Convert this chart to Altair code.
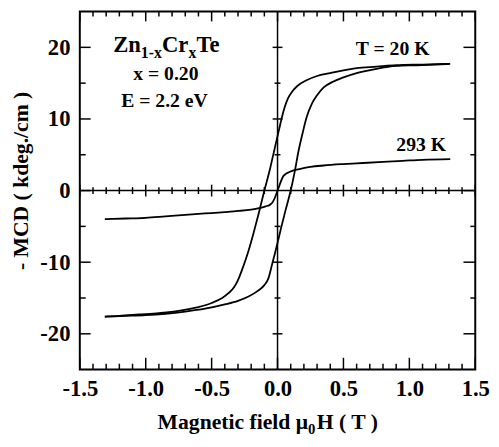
import altair as alt
import pandas as pd

# ---- data ----
# 20 K loop, descending-field branch (from +1.3 T to -1.3 T)
X_DESC = [1.30, 1.10, 0.90, 0.75, 0.60, 0.50, 0.40, 0.30, 0.22, 0.15, 0.11, 0.08, 0.05, 0.02, 0.00,
          -0.03, -0.06, -0.10, -0.14, -0.18, -0.22, -0.26, -0.30, -0.33, -0.37, -0.42, -0.50, -0.61,
          -0.75, -0.90, -1.05, -1.20, -1.31]
Y_DESC = [17.7, 17.6, 17.5, 17.3, 17.1, 16.8, 16.4, 16.0, 15.4, 14.6, 13.8, 12.9, 11.4, 9.2, 7.6,
          5.2, 2.8, 0.0, -3.0, -5.8, -8.4, -10.6, -12.5, -13.5, -14.3, -15.0, -15.7, -16.3,
          -16.8, -17.1, -17.3, -17.5, -17.6]
# 20 K loop, ascending-field branch (from -1.3 T to +1.3 T)
X_ASC = [-1.31, -1.15, -1.00, -0.85, -0.70, -0.55, -0.40, -0.30, -0.22, -0.15, -0.10, -0.07, -0.04,
         -0.02, 0.00, 0.03, 0.06, 0.10, 0.13, 0.16, 0.19, 0.22, 0.26, 0.30, 0.35, 0.42, 0.50,
         0.60, 0.75, 0.90, 1.05, 1.20, 1.31]
Y_ASC = [-17.6, -17.5, -17.4, -17.2, -16.9, -16.5, -15.9, -15.4, -14.8, -14.0, -13.2, -12.3, -10.2,
         -8.8, -7.3, -5.0, -2.8, 0.0, 2.6, 5.6, 8.0, 10.2, 12.1, 13.3, 14.4, 15.2, 15.8,
         16.4, 17.0, 17.4, 17.5, 17.6, 17.7]
# 293 K curve
X_RT = [-1.31, -1.15, -1.00, -0.85, -0.70, -0.55, -0.40, -0.30, -0.20, -0.14, -0.09, -0.06, -0.04,
        -0.02, 0.00, 0.02, 0.04, 0.06, 0.09, 0.13, 0.18, 0.25, 0.35, 0.50, 0.65, 0.80, 0.95, 1.10, 1.31]
Y_RT = [-4.0, -3.9, -3.8, -3.6, -3.4, -3.2, -3.0, -2.85, -2.65, -2.45, -2.2, -2.0, -1.7,
        -1.0, 0.0, 1.0, 1.9, 2.3, 2.6, 2.85, 3.05, 3.3, 3.5, 3.7, 3.85, 4.0, 4.15, 4.3, 4.4]

X_MAJOR = [-1.5, -1.0, -0.5, 0.0, 0.5, 1.0, 1.5]
X_MINOR = [v / 10 for v in range(-14, 15) if v % 5 != 0]
Y_MAJOR = [-20, -10, 0, 10, 20]
Y_MINOR = [-15, -5, 5, 15]
X_DOMAIN = [-1.5, 1.5]
Y_DOMAIN = [-25, 25]

# annotations (text, x, y in data units)
LABELS = ["x = 0.20", "E = 2.2 eV", "T = 20 K", "293 K"]
LABEL_X = [-0.847, -0.858, 0.873, 1.09]
LABEL_Y = [15.4, 11.6, 19.0, 5.5]
FORMULA_X, FORMULA_Y = -1.246, 19.3
X_TITLE_SPLIT = 0.231
Y_TITLE_Y = 1.35

# ---- styling ----
W, H = 402, 364
FONT = "Liberation Serif"
LW = 1.5

sx = alt.Scale(domain=X_DOMAIN, nice=False, zero=False)
sy = alt.Scale(domain=Y_DOMAIN, nice=False, zero=False)

x_axis = alt.Axis(values=X_MAJOR, labelExpr="(datum.value < 0 ? '-' : '') + format(abs(datum.value), '.1f')",
                  labelFont=FONT, labelFontWeight="bold", labelFontSize=23, labelColor="black",
                  labelPadding=8, labelFlush=False, labelOverlap=False,
                  ticks=False, domain=False, grid=False, title=None)
y_axis = alt.Axis(values=Y_MAJOR, labelExpr="(datum.value < 0 ? '-' : '') + format(abs(datum.value), 'd')",
                  labelFont=FONT, labelFontWeight="bold", labelFontSize=23, labelColor="black",
                  labelPadding=10, labelFlush=False, labelOverlap=False,
                  ticks=False, domain=False, grid=False, title=None)

X = lambda: alt.X("x:Q", scale=sx, axis=x_axis)
Y = lambda: alt.Y("y:Q", scale=sy, axis=y_axis)

rows = []
for name, xs, ys in [("desc", X_DESC, Y_DESC), ("asc", X_ASC, Y_ASC), ("rt", X_RT, Y_RT)]:
    for i, (a, b) in enumerate(zip(xs, ys)):
        rows.append({"series": name, "i": i, "x": a, "y": b})
curves = pd.DataFrame(rows)

lines = alt.Chart(curves).mark_line(color="black", strokeWidth=1.8, strokeJoin="round",
                                    interpolate="monotone").encode(
    x=X(), y=Y(), detail="series:N", order="i:Q")

# centre cross lines
zero_v = alt.Chart(pd.DataFrame({"x": [0.0]})).mark_rule(color="black", strokeWidth=LW).encode(x=X())
zero_h = alt.Chart(pd.DataFrame({"y": [0.0]})).mark_rule(color="black", strokeWidth=LW).encode(y=Y())

def xticks(vals, y_px, y2_px):
    return alt.Chart(pd.DataFrame({"x": vals})).mark_rule(color="black", strokeWidth=LW).encode(
        x=X(), y=alt.value(y_px), y2=alt.value(y2_px))

def yticks(vals, x_px, x2_px):
    return alt.Chart(pd.DataFrame({"y": vals})).mark_rule(color="black", strokeWidth=LW).encode(
        y=Y(), x=alt.value(x_px), x2=alt.value(x2_px))

def xticks_center(vals, half):
    return alt.Chart(pd.DataFrame({"x": vals, "y": [0.0] * len(vals)})).mark_rule(
        color="black", strokeWidth=LW, yOffset=-half, y2Offset=half).encode(
        x=X(), y=Y(), y2="y:Q")

def yticks_center(vals, half):
    return alt.Chart(pd.DataFrame({"y": vals, "x": [0.0] * len(vals)})).mark_rule(
        color="black", strokeWidth=LW, xOffset=-half, x2Offset=half).encode(
        y=Y(), x=X(), x2="x:Q")

tick_layers = [
    xticks(X_MAJOR, H, H - 12), xticks(X_MINOR, H, H - 6),
    xticks(X_MAJOR, 0, 10), xticks(X_MINOR, 0, 5),
    yticks(Y_MAJOR, 0, 11), yticks(Y_MINOR, 0, 6),
    yticks(Y_MAJOR, W, W - 12), yticks(Y_MINOR, W, W - 5),
    xticks_center([v for v in X_MAJOR if v != 0], 6), xticks_center(X_MINOR, 3.5),
    yticks_center([v for v in Y_MAJOR if v != 0], 5), yticks_center(Y_MINOR, 3),
]

# annotation labels
ann = alt.Chart(pd.DataFrame({"x": LABEL_X, "y": LABEL_Y, "t": LABELS})).mark_text(
    font=FONT, fontWeight="bold", fontSize=20, color="black", align="center", baseline="alphabetic").encode(
    x=X(), y=Y(), text="t:N")

def seg(text, dx, size, dy=0):
    return alt.Chart(pd.DataFrame({"x": [FORMULA_X], "y": [FORMULA_Y], "t": [text]})).mark_text(
        font=FONT, fontWeight="bold", fontSize=size, color="black", align="left",
        baseline="alphabetic", dx=dx, dy=dy).encode(x=X(), y=Y(), text="t:N")

formula = [seg("Zn", 0, 23), seg("1-x", 28, 16, 6), seg("Cr", 49.5, 23), seg("x", 76.5, 16, 6), seg("Te", 84.5, 23)]

def tseg(text, align, dx, size, dy=0):
    return alt.Chart(pd.DataFrame({"x": [X_TITLE_SPLIT], "t": [text]})).mark_text(
        font=FONT, fontWeight="bold", fontSize=size, color="black", align=align,
        baseline="alphabetic", dx=dx, dy=dy).encode(x=X(), y=alt.value(H + 60), text="t:N")

x_title = [tseg("Magnetic field \u03bc", "right", 0, 22), tseg("0", "left", 0, 15, 5), tseg("H ( T )", "left", 9, 22)]

y_title = alt.Chart(pd.DataFrame({"y": [Y_TITLE_Y], "t": ["- MCD ( kdeg./cm )"]})).mark_text(
    font=FONT, fontWeight="bold", fontSize=22, color="black", angle=270, align="center",
    baseline="middle").encode(x=alt.value(-60), y=Y(), text="t:N")

chart = alt.layer(
    zero_v, zero_h, *tick_layers, lines, ann, *formula, *x_title, y_title
).properties(
    width=W, height=H,
    padding={"left": 73, "top": 0, "right": 16, "bottom": 70},
    autosize=alt.AutoSizeParams(type="none"),
).configure_view(stroke="black", strokeWidth=2)

chart.save("out.html", embed_options={"renderer": "svg", "actions": False})
